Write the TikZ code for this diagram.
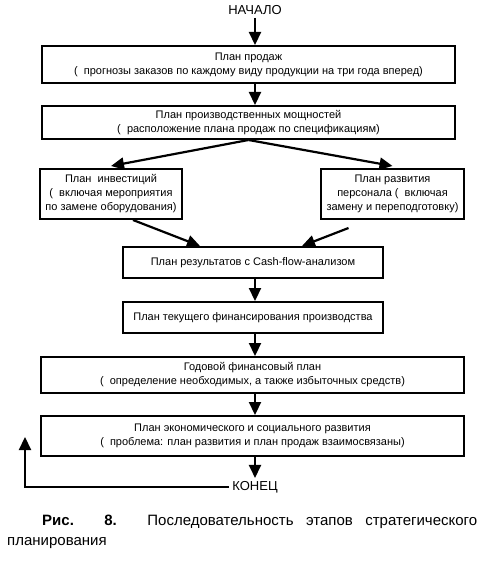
\documentclass[tikz,border=0pt]{standalone}
\usepackage{fontspec}
\setmainfont{Liberation Sans}
\usepackage{tikz}
\usetikzlibrary{arrows.meta,positioning}

\begin{document}
\begin{tikzpicture}[
    x=1pt, y=1pt,
    font=\fontsize{11}{14}\selectfont,
    block/.style={draw, line width=2pt, align=center, inner sep=2pt},
    arr/.style={-{Triangle[length=13pt,width=12pt]}, line width=2.2pt},
    lbl/.style={font=\fontsize{13}{14}\selectfont, inner sep=3pt}
]
\useasboundingbox (0,0) rectangle (485,-561);
\coordinate (axis) at (255,0);

\node[lbl] (start) at (255,-10) {НАЧАЛО};
\node[block, minimum width=413pt, minimum height=37pt] (sales) at (248.5,-64.5)
    {План продаж\\(\ \ прогнозы заказов по каждому виду продукции на три года вперед)};
\node[block, minimum width=413pt, minimum height=33pt] (capacity) at (248.5,-122.5)
    {План производственных мощностей\\(\ \ расположение плана продаж по спецификациям)};
\node[block, minimum width=142pt, minimum height=50pt] (invest) at (111,-194)
    {План\ \ инвестиций\\(\ \ включая мероприятия\\по замене оборудования)};
\node[block, minimum width=143pt, minimum height=50pt] (staff) at (392.5,-194)
    {План развития\\персонала (\ \ включая\\замену и переподготовку)};
\node[block, minimum width=260pt, minimum height=31pt] (results) at (253,-262.5)
    {План результатов с Cash-flow-анализом};
\node[block, minimum width=260pt, minimum height=31pt] (current) at (253,-317.5)
    {План текущего финансирования производства};
\node[block, minimum width=423pt, minimum height=36pt] (annual) at (252.5,-375)
    {Годовой финансовый план\\(\ \ определение необходимых, а также избыточных средств)};
\node[block, minimum width=423pt, minimum height=40pt] (econ) at (252.5,-436)
    {План экономического и социального развития\\(\ \ проблема: план развития и план продаж взаимосвязаны)};
\node[lbl] (finish) at (255,-487) {КОНЕЦ};
\coordinate (back) at (25,-437);

\draw[arr] (start.south -| axis) -- (sales.north -| axis);
\draw[arr] (sales.south -| axis) -- (capacity.north -| axis);
\draw[arr] (capacity.south) -- ([yshift=2pt]invest.north);
\draw[arr] (capacity.south) -- ([yshift=2pt]staff.north);
\draw[arr] ([xshift=22pt]invest.south) -- ([xshift=-53pt]results.north);
\draw[arr] ([xshift=-44pt,yshift=-8pt]staff.south) -- ([xshift=49pt]results.north);
\draw[arr] (results.south -| axis) -- (current.north -| axis);
\draw[arr] (current.south -| axis) -- (annual.north -| axis);
\draw[arr] (annual.south -| axis) -- (econ.north -| axis);
\draw[arr] (econ.south -| axis) -- (finish.north -| axis);
\draw[arr] (finish.west) -| (back);

% caption
\node[anchor=north west, text width=470pt, align=justify, inner sep=0pt,
      font=\fontsize{15}{20}\selectfont] (caption) at (7,-515)
    {\hspace*{35pt}\textbf{Рис. 8.} Последовательность этапов стратегического\linebreak планирования};
\end{tikzpicture}
\end{document}
